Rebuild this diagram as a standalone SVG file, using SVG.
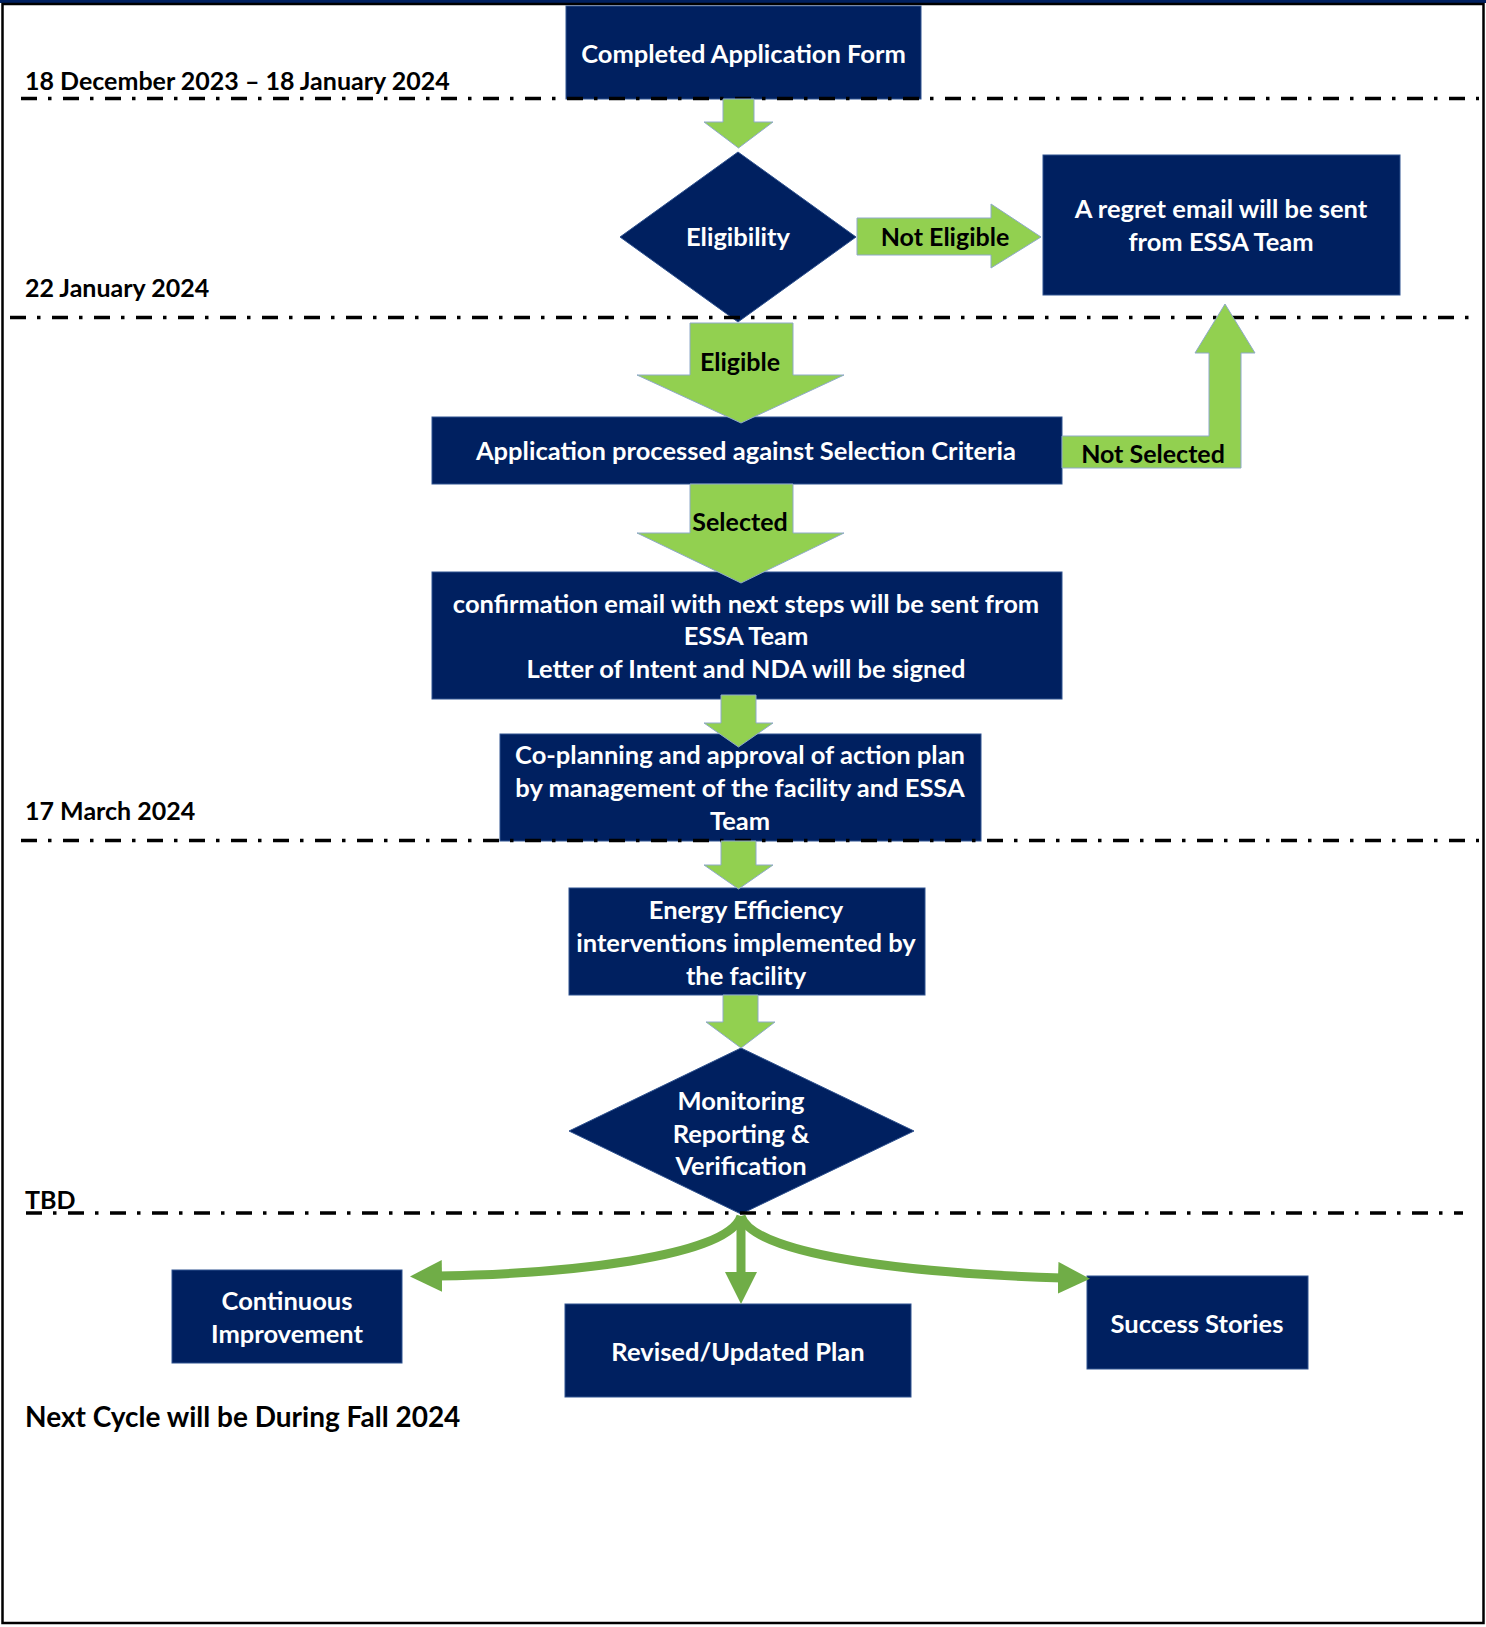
<svg xmlns="http://www.w3.org/2000/svg" width="1486" height="1627" viewBox="0 0 1486 1627">
<style>
.box{fill:#002060;stroke:#2F528F;stroke-width:1}
.wt{fill:#ffffff;font-family:Lato,"Liberation Sans",sans-serif;font-weight:bold;font-size:25.5px;text-anchor:middle}
.bt{fill:#000000;font-family:Lato,"Liberation Sans",sans-serif;font-weight:bold;font-size:25px;text-anchor:middle}
.dt{fill:#000000;font-family:Lato,"Liberation Sans",sans-serif;font-weight:bold;font-size:25px}
.dash{stroke:#000000;stroke-width:3.5;stroke-dasharray:16 11 3.5 11.5;fill:none}
.blk{fill:#92D050;stroke:#8EA9C8;stroke-width:1}
.cur{fill:none;stroke:#70AD47;stroke-width:9}
</style>
<defs>
<marker id="ah" markerUnits="userSpaceOnUse" markerWidth="34" markerHeight="34" refX="4" refY="16" orient="auto">
<path d="M0,0 L32,16 L0,32 z" fill="#70AD47"/>
</marker>
</defs>
<rect x="0" y="0" width="1486" height="1627" fill="#ffffff"/>
<rect x="0" y="0" width="1486" height="3" fill="#002060"/>
<rect x="2.5" y="4" width="1481" height="1619" fill="none" stroke="#000000" stroke-width="2.5"/>

<g id="labels">
<text class="dt" x="25" y="90">18 December 2023 – 18 January 2024</text>
<text class="dt" x="25" y="297">22 January 2024</text>
<text class="dt" x="25" y="820">17 March 2024</text>
<text class="dt" x="25" y="1209">TBD</text>
<text class="dt" x="25" y="1427" style="font-size:28px">Next Cycle will be During Fall 2024</text>
</g>

<g id="n-form"><rect class="box" x="566" y="6" width="355" height="93"/><text class="wt" x="743.5" y="63">Completed Application Form</text></g>
<g id="n-elig"><polygon class="box" points="738,152 856,237 738,322 620,237"/><text class="wt" x="738" y="246">Eligibility</text></g>
<g id="n-regret"><rect class="box" x="1043" y="155" width="357" height="140"/><text class="wt" x="1221" y="218">A regret email will be sent</text><text class="wt" x="1221" y="251">from ESSA Team</text></g>
<g id="n-process"><rect class="box" x="432" y="417" width="630" height="67"/><text class="wt" x="746" y="460">Application processed against Selection Criteria</text></g>
<g id="n-confirm"><rect class="box" x="432" y="572" width="630" height="127"/><text class="wt" x="746" y="613">confirmation email with next steps will be sent from</text><text class="wt" x="746" y="645">ESSA Team</text><text class="wt" x="746" y="678">Letter of Intent and NDA will be signed</text></g>
<g id="n-coplan"><rect class="box" x="500" y="734" width="481" height="107"/><text class="wt" x="740" y="764">Co-planning and approval of action plan</text><text class="wt" x="740" y="797">by management of the facility and ESSA</text><text class="wt" x="740" y="830">Team</text></g>
<g id="n-energy"><rect class="box" x="569" y="888" width="356" height="107"/><text class="wt" x="746" y="919">Energy Efficiency</text><text class="wt" x="746" y="952">interventions implemented by</text><text class="wt" x="746" y="985">the facility</text></g>
<g id="n-mrv"><polygon class="box" points="741,1048 914,1131 741,1214 569,1131"/><text class="wt" x="741" y="1110">Monitoring</text><text class="wt" x="741" y="1143">Reporting &amp;</text><text class="wt" x="741" y="1175">Verification</text></g>
<g id="n-ci"><rect class="box" x="172" y="1270" width="230" height="93"/><text class="wt" x="287" y="1310">Continuous</text><text class="wt" x="287" y="1343">Improvement</text></g>
<g id="n-rev"><rect class="box" x="565" y="1304" width="346" height="93"/><text class="wt" x="738" y="1361">Revised/Updated Plan</text></g>
<g id="n-succ"><rect class="box" x="1087" y="1276" width="221" height="93"/><text class="wt" x="1197" y="1333">Success Stories</text></g>

<g id="timelines">
<line class="dash" x1="21" y1="98.5" x2="1479" y2="98.5"/>
<line class="dash" x1="10" y1="317.5" x2="1473" y2="317.5"/>
<line class="dash" x1="21" y1="840.5" x2="1479" y2="840.5"/>
<line class="dash" x1="26" y1="1213" x2="1463" y2="1213"/>
</g>

<g id="connectors">
<polygon class="blk" points="723,99 754,99 754,122 773,122 738.5,148 704,122 723,122"/>
<polygon class="blk" points="857,218 991,218 991,204 1041,237 991,268 991,255 857,255"/>
<text class="bt" x="945" y="246">Not Eligible</text>
<polygon class="blk" points="690,323 793,323 793,375 844,375 741,423 637,375 690,375"/>
<text class="bt" x="740" y="371">Eligible</text>
<polygon class="blk" points="1062,436 1209,436 1209,353 1195,353 1225,304 1255,353 1241,353 1241,468 1062,468"/>
<text class="bt" x="1153" y="463">Not Selected</text>
<polygon class="blk" points="690,484 793,484 793,533 844,533 741,583 637,533 690,533"/>
<text class="bt" x="740" y="531">Selected</text>
<polygon class="blk" points="721,695 756,695 756,723 773,723 738.5,747 704,723 721,723"/>
<polygon class="blk" points="721,841 756,841 756,865 773,865 738.5,889 704,865 721,865"/>
<polygon class="blk" points="723,995 758,995 758,1022 775,1022 741,1048 706,1022 723,1022"/>
<path class="cur" d="M741,1216 C728,1258 560,1274 438,1276" marker-end="url(#ah)"/>
<path class="cur" d="M741,1216 C754,1258 930,1274 1062,1278" marker-end="url(#ah)"/>
<path class="cur" d="M741,1216 L741,1276" marker-end="url(#ah)"/>
</g>
</svg>
